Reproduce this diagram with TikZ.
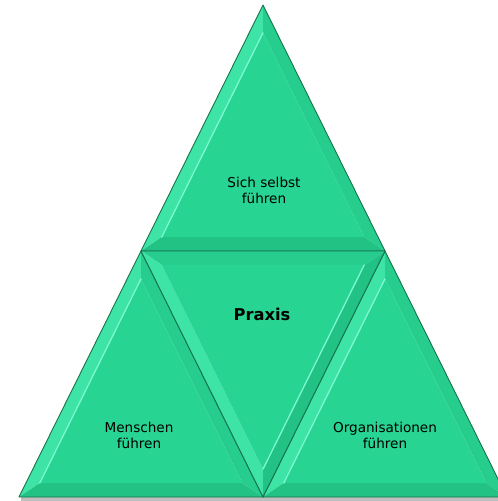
\documentclass[tikz,border=0pt]{standalone}
\usepackage{fontspec}
\setmainfont{DejaVu Sans}
\usetikzlibrary{calc}

\definecolor{pyrgreen}{RGB}{40,212,145}
\definecolor{pyrlight}{RGB}{62,228,165}
\definecolor{pyrshine}{RGB}{125,248,212}
\definecolor{pyrmid}{RGB}{38,205,140}
\definecolor{pyrdark}{RGB}{33,194,131}
\definecolor{pyredge}{RGB}{22,115,78}

\begin{document}
\begin{tikzpicture}[x=1pt, y=-1pt,
    face/.style={fill=pyrgreen},
    litfacet/.style={fill=pyrlight},
    midfacet/.style={fill=pyrmid},
    darkfacet/.style={fill=pyrdark},
    shine/.style={draw=pyrshine, line width=1.3pt, line cap=round},
    rim/.style={draw=pyredge, line width=0.9pt, line join=round},
    tritext/.style={align=center, font=\fontsize{13.6}{16}\selectfont}
]
\useasboundingbox (0,0) rectangle (498,501);
\clip (0,0) rectangle (498,501);

% ---------------- CORNERS ----------------
\coordinate (top) at (263,5);
\coordinate (ml) at (141,251);
\coordinate (mr) at (385,251);
\coordinate (bl) at (19,497);
\coordinate (bm) at (263,497);
\coordinate (br) at (507,497);

% shadow under the base
\fill[black!25] ($(bl)+(2,0)$) rectangle ($(br)+(0,4)$);

% ---------------- UPRIGHT TRIANGLES ----------------
\foreach \p/\q/\r in {top/ml/mr, ml/bl/bm, mr/bm/br}{
  \coordinate (g) at ($0.3333*(\p)+0.3333*(\q)+0.3334*(\r)$);
  \coordinate (i1) at ($(\p)!0.17!(g)$);
  \coordinate (i2) at ($(\q)!0.17!(g)$);
  \coordinate (i3) at ($(\r)!0.17!(g)$);
  \fill[litfacet] (\p) -- (\q) -- (i2) -- (i1) -- cycle;
  \fill[midfacet] (\p) -- (\r) -- (i3) -- (i1) -- cycle;
  \fill[darkfacet] (\q) -- (\r) -- (i3) -- (i2) -- cycle;
  \fill[face] (i1) -- (i2) -- (i3) -- cycle;
  \draw[shine] (i1) -- (i2);
  \draw[rim] (\p) -- (\q) -- (\r) -- cycle;
}

% ---------------- INVERTED TRIANGLE ----------------
\coordinate (g) at ($0.3333*(ml)+0.3333*(mr)+0.3334*(bm)$);
\coordinate (i1) at ($(ml)!0.17!(g)$);
\coordinate (i2) at ($(mr)!0.17!(g)$);
\coordinate (i3) at ($(bm)!0.17!(g)$);
\fill[midfacet] (ml) -- (mr) -- (i2) -- (i1) -- cycle;
\fill[litfacet] (ml) -- (bm) -- (i3) -- (i1) -- cycle;
\fill[darkfacet] (mr) -- (bm) -- (i3) -- (i2) -- cycle;
\fill[face] (i1) -- (i2) -- (i3) -- cycle;
\draw[shine] (i2) -- (i3);
\draw[rim] (ml) -- (mr) -- (bm) -- cycle;

% Labels
\node[tritext] (self) at (264,190) {Sich selbst\\führen};
\node[font=\fontsize{16.3}{19}\selectfont\bfseries, anchor=base] (praxis)
  at (262,320) {Praxis};
\node[tritext] (people) at (139,435) {Menschen\\führen};
\node[tritext] (orgs) at (385,435) {Organisationen\\führen};

\end{tikzpicture}
\end{document}
